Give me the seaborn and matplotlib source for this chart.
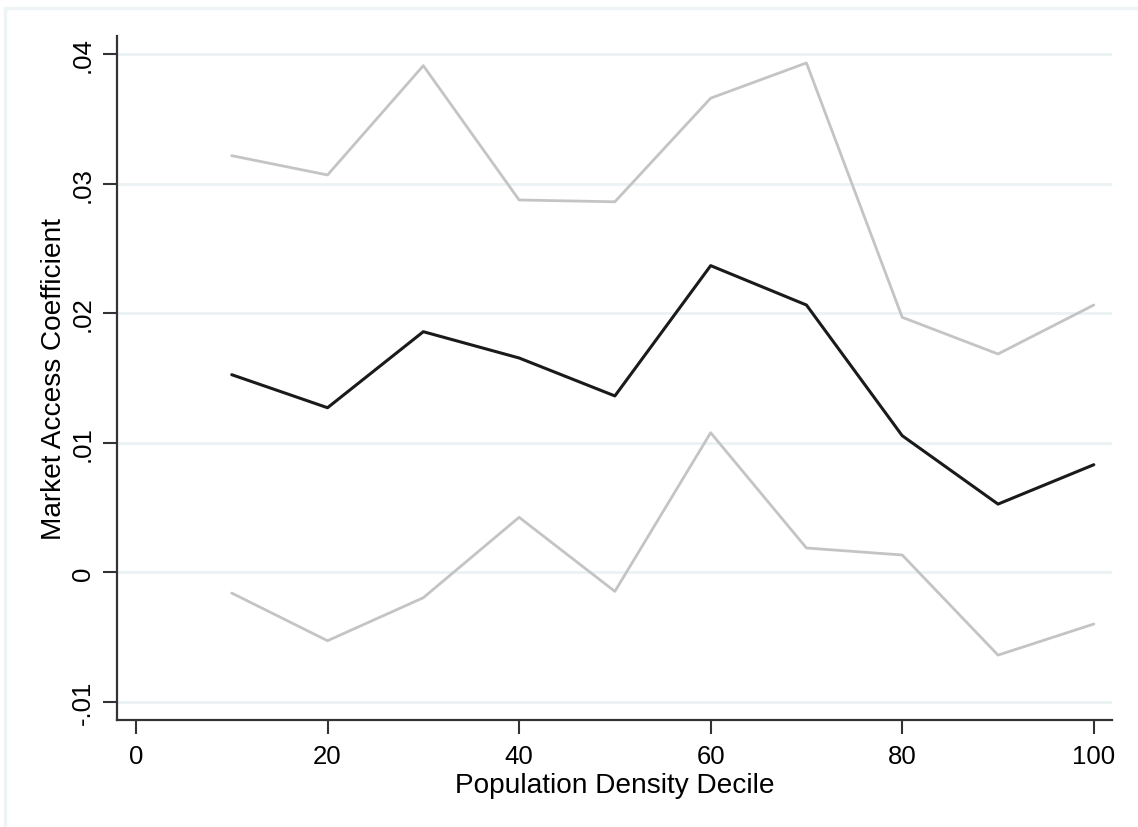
import matplotlib
matplotlib.use("Agg")
import matplotlib.pyplot as plt
import seaborn as sns
import pandas as pd
from matplotlib.patches import Rectangle

decile = [10, 20, 30, 40, 50, 60, 70, 80, 90, 100]
coef = [0.01526, 0.01271, 0.01858, 0.01655, 0.01362, 0.02368, 0.02064, 0.01055, 0.00527, 0.00831]
upper = [0.03217, 0.03068, 0.03912, 0.02875, 0.02861, 0.03661, 0.03933, 0.01969, 0.01686, 0.02064]
lower = [-0.00160, -0.00528, -0.00196, 0.00425, -0.00147, 0.01078, 0.00188, 0.00134, -0.00639, -0.00399]

x_ticks = [0, 20, 40, 60, 80, 100]
y_ticks = [-0.01, 0, 0.01, 0.02, 0.03, 0.04]
y_tick_labels = ["-.01", "0", ".01", ".02", ".03", ".04"]
x_label = "Population Density Decile"
y_label = "Market Access Coefficient"

df = pd.concat([
    pd.DataFrame({"decile": decile, "value": upper, "series": "upper"}),
    pd.DataFrame({"decile": decile, "value": lower, "series": "lower"}),
    pd.DataFrame({"decile": decile, "value": coef, "series": "coef"}),
])

sns.set_theme(style="white")
plt.rcParams['font.family'] = ['Liberation Sans', 'DejaVu Sans']

fig = plt.figure(figsize=(11.38, 8.28), dpi=100)
fig.patch.set_facecolor("white")
# outer graph region border (partially visible)
fig.patches.append(Rectangle((5 / 1138, -0.1), 1.2, (1 - 9 / 828) + 0.1,
                             transform=fig.transFigure, fill=False,
                             edgecolor="#eef3f5", linewidth=2.5, zorder=0))

ax = fig.add_axes([117 / 1138, 1 - 721 / 828, (1112 - 117) / 1138, (721 - 37) / 828])
ax.set_facecolor("white")

for yv in y_ticks:
    ax.axhline(yv, color="#ebf2f4", linewidth=2.0, zorder=0)

sns.lineplot(data=df, x="decile", y="value", hue="series", units="series",
             estimator=None, sort=False,
             palette={"upper": "#c4c4c4", "lower": "#c4c4c4", "coef": "#1a1a1a"},
             ax=ax, legend=False)
for line in ax.get_lines():
    if line.get_color() == "#1a1a1a":
        line.set_linewidth(2.2)
    else:
        line.set_linewidth(2.0)

ax.set_xlim(-1.98, 101.9)
ax.set_ylim(-0.0114, 0.04141)
ax.set_xticks(x_ticks)
ax.set_xticklabels([str(v) for v in x_ticks], fontsize=18.5)
ax.set_yticks(y_ticks)
ax.set_yticklabels(y_tick_labels, fontsize=18.5, rotation=90, va="center")

for s in ["top", "right"]:
    ax.spines[s].set_visible(False)
for s in ["left", "bottom"]:
    ax.spines[s].set_color("#333333")
    ax.spines[s].set_linewidth(1.6)

ax.tick_params(axis="both", direction="out", length=10, width=1.5, color="#333333",
               labelcolor="black", pad=7, bottom=True, left=True)
ax.tick_params(axis="y", pad=6)

ax.set_xlabel(x_label, fontsize=20.2, color="black", labelpad=3)
ax.set_ylabel(y_label, fontsize=20.2, color="black", labelpad=3)

fig.savefig("out.png", dpi=100, facecolor="white")
